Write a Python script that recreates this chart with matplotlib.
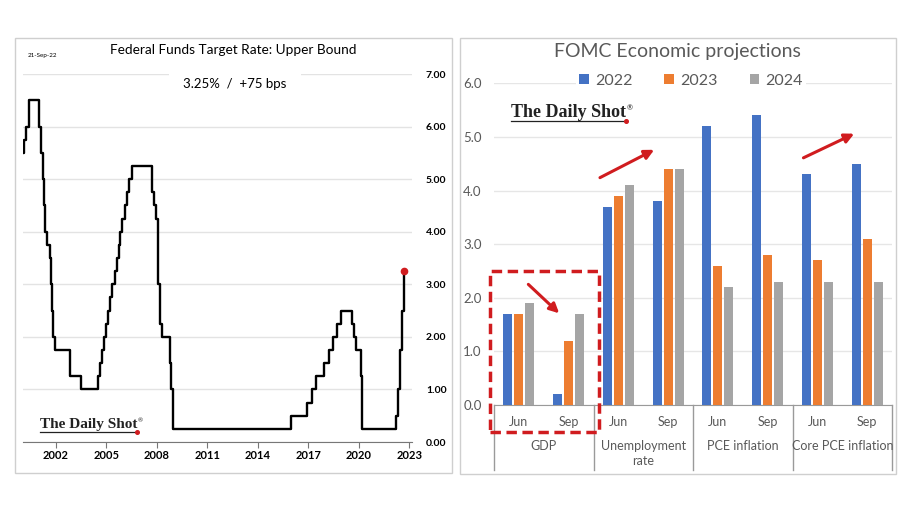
import matplotlib
matplotlib.use('Agg')
import matplotlib.pyplot as plt
from matplotlib.patches import Rectangle
from matplotlib.lines import Line2D
import numpy as np
import pandas as pd

plt.rcParams['font.family'] = ['Lato', 'DejaVu Sans']

# Fed funds upper bound: change dates and new levels
fed_dates = ['2000-01-20', '2000-02-02', '2000-03-21', '2000-05-16',
             '2001-01-03', '2001-01-31', '2001-03-20', '2001-04-18', '2001-05-15',
             '2001-06-27', '2001-08-21', '2001-09-17', '2001-10-02', '2001-11-06',
             '2001-12-11', '2002-11-06', '2003-06-25',
             '2004-06-30', '2004-08-10', '2004-09-21', '2004-11-10', '2004-12-14',
             '2005-02-02', '2005-03-22', '2005-05-03', '2005-06-30', '2005-08-09',
             '2005-09-20', '2005-11-01', '2005-12-13',
             '2006-01-31', '2006-03-28', '2006-05-10', '2006-06-29',
             '2007-09-18', '2007-10-31', '2007-12-11',
             '2008-01-22', '2008-01-30', '2008-03-18', '2008-04-30', '2008-10-08',
             '2008-10-29', '2008-12-16',
             '2015-12-16', '2016-12-14', '2017-03-15', '2017-06-14', '2017-12-13',
             '2018-03-21', '2018-06-13', '2018-09-26', '2018-12-19',
             '2019-07-31', '2019-09-18', '2019-10-30', '2020-03-03', '2020-03-15',
             '2022-03-16', '2022-05-04', '2022-06-15', '2022-07-27', '2022-09-21']
fed_rates = [5.50, 5.75, 6.00, 6.50,
             6.00, 5.50, 5.00, 4.50, 4.00,
             3.75, 3.50, 3.00, 2.50, 2.00,
             1.75, 1.25, 1.00,
             1.25, 1.50, 1.75, 2.00, 2.25,
             2.50, 2.75, 3.00, 3.25, 3.50,
             3.75, 4.00, 4.25,
             4.50, 4.75, 5.00, 5.25,
             4.75, 4.50, 4.25,
             3.50, 3.00, 2.25, 2.00, 1.50,
             1.00, 0.25,
             0.50, 0.75, 1.00, 1.25, 1.50,
             1.75, 2.00, 2.25, 2.50,
             2.25, 2.00, 1.75, 1.25, 0.25,
             0.50, 1.00, 1.75, 2.50, 3.25]
year_ticks = [2002, 2005, 2008, 2011, 2014, 2017, 2020, 2023]

# FOMC projections
groups = ['GDP', 'Unemployment\nrate', 'PCE inflation', 'Core PCE inflation']
meetings = ['Jun', 'Sep']
proj_2022 = [1.7, 0.2, 3.7, 3.8, 5.2, 5.4, 4.3, 4.5]
proj_2023 = [1.7, 1.2, 3.9, 4.4, 2.6, 2.8, 2.7, 3.1]
proj_2024 = [1.9, 1.7, 4.1, 4.4, 2.2, 2.3, 2.3, 2.3]

W, H = 911, 512
fig = plt.figure(figsize=(W / 100, H / 100), dpi=100)


def fx(px):
    return px / W


def fy(py):
    return 1 - py / H


# panel frames
for x0, y0, x1, y1 in [(15, 38, 452, 473), (460, 38, 896, 474)]:
    fig.add_artist(Rectangle((fx(x0), fy(y1)), fx(x1 - x0), (y1 - y0) / H,
                             transform=fig.transFigure, fill=False,
                             edgecolor='#cfcfcf', lw=1))

RED = '#d01c1f'
GRAY = '#595959'

# ---------------- left chart ----------------
ax1 = fig.add_axes([fx(23), fy(442), fx(412 - 23), (442 - 74) / H])
dates = pd.to_datetime(fed_dates)
ax1.plot(dates, fed_rates, drawstyle='steps-post', color='black', lw=1.7, zorder=3)
ax1.plot(dates[-1], fed_rates[-1], 'o', color=RED, ms=4.5, zorder=4)
ax1.set_ylim(0, 7)
ax1.set_xlim(pd.Timestamp('2000-01-15'), pd.Timestamp('2023-03-05'))
ax1.set_yticks(np.arange(0, 8))
ax1.set_yticklabels(['%.2f' % v for v in range(8)], fontsize=7.5, fontweight='bold')
ax1.yaxis.tick_right()
ax1.tick_params(axis='y', length=0, pad=10)
ax1.set_xticks([pd.Timestamp('%d-01-01' % y) for y in year_ticks])
ax1.set_xticklabels([str(y) for y in year_ticks], fontsize=8, fontweight='bold')
ax1.tick_params(axis='x', length=4, color='#777777', pad=2)
ax1.grid(axis='y', color='#e3e3e3', lw=1)
for s in ['top', 'left', 'right']:
    ax1.spines[s].set_visible(False)
ax1.spines['bottom'].set_color('#777777')

fig.text(fx(233), fy(50), 'Federal Funds Target Rate: Upper Bound', fontsize=9.8,
         ha='center', va='center')
fig.text(fx(42), fy(56), '21-Sep-22', fontsize=4.5, ha='center', va='center')
fig.text(fx(235), fy(84), '3.25%  /  +75 bps', fontsize=9.5, ha='center', va='center',
         bbox=dict(boxstyle='square,pad=1.1', fc='white', ec='none'))

# ---------------- right chart ----------------
ax2 = fig.add_axes([fx(494), fy(405), fx(892 - 494), (405 - 83.3) / H])
x = np.arange(len(proj_2022))
bw = 0.18
off = 0.222
ax2.bar(x - off, proj_2022, bw, color='#4472c4', label='2022', zorder=3)
ax2.bar(x, proj_2023, bw, color='#ed7d31', label='2023', zorder=3)
ax2.bar(x + off, proj_2024, bw, color='#a5a5a5', label='2024', zorder=3)
ax2.set_xlim(-0.5, 7.5)
ax2.set_ylim(0, 6)
ax2.set_yticks(np.arange(0, 7))
ax2.set_yticklabels(['%.1f' % v for v in range(7)], fontsize=9.5, color=GRAY)
ax2.tick_params(axis='y', length=0, pad=9)
ax2.set_xticks([])
ax2.grid(axis='y', color='#e6e6e6', lw=1)
ax2.set_axisbelow(True)
for s in ['top', 'left', 'right']:
    ax2.spines[s].set_visible(False)
ax2.spines['bottom'].set_color('#9a9a9a')

tr = ax2.get_xaxis_transform()
axh = 405 - 83.3
for i in range(len(x)):
    ax2.text(i, -17 / axh, meetings[i % 2], transform=tr, ha='center', va='center',
             fontsize=9, color=GRAY)
for g, name in enumerate(groups):
    ax2.text(2 * g + 0.5, -35 / axh, name, transform=tr, ha='center', va='top',
             fontsize=9, color=GRAY, linespacing=1.3)
for b in [-0.5, 1.5, 3.5, 5.5, 7.5]:
    ax2.add_line(Line2D([b, b], [0, -65 / axh], transform=tr, color='#9a9a9a',
                        lw=1, clip_on=False))

leg = ax2.legend(ncol=3, loc='center', bbox_to_anchor=(0.495, 1 + 2.6 / axh),
                 fontsize=11.5, frameon=True, facecolor='white', edgecolor='none',
                 framealpha=1, handlelength=0.6, handleheight=0.6, handletextpad=0.4,
                 columnspacing=2.0, borderpad=0.2)
for t in leg.get_texts():
    t.set_color(GRAY)

ax2.add_patch(Rectangle((-0.58, -0.5), 2.19, 3.0, fill=False, edgecolor=RED,
                        lw=2.5, linestyle=(0, (3, 1.6)), clip_on=False, zorder=5))
arrows = [((0.19, 2.25), (0.81, 1.71)), ((1.63, 4.24), (2.72, 4.76)),
          ((5.72, 4.61), (6.74, 5.06))]
for (x0, y0), (x1, y1) in arrows:
    ax2.annotate('', xy=(x1, y1), xytext=(x0, y0),
                 arrowprops=dict(arrowstyle='-|>', color=RED, lw=2.2,
                                 mutation_scale=14, shrinkA=0, shrinkB=0))

fig.text(fx(677), fy(51), 'FOMC Economic projections', fontsize=14, color=GRAY,
         ha='center', va='center')


# logos
def logo(x0, x1, base, size):
    fig.text(fx(x0), fy(base), 'The Daily Shot', fontsize=size, ha='left',
             va='baseline', family='Liberation Serif', fontweight='bold', color='#222222')
    fig.text(fx(x1 + 1), fy(base - size * 0.55), '®', fontsize=size * 0.4, ha='left',
             va='baseline', color='#222222')
    fig.add_artist(Line2D([fx(x0), fx(x1)], [fy(base + 3.5)] * 2,
                          transform=fig.transFigure, color='#222222', lw=0.9))
    fig.add_artist(Line2D([fx(x1)], [fy(base + 3.5)], transform=fig.transFigure,
                          marker='o', ms=2.6, color=RED))


logo(511, 626, 117, 13)
logo(40, 137, 428, 11)

fig.savefig('out.png', dpi=100)
